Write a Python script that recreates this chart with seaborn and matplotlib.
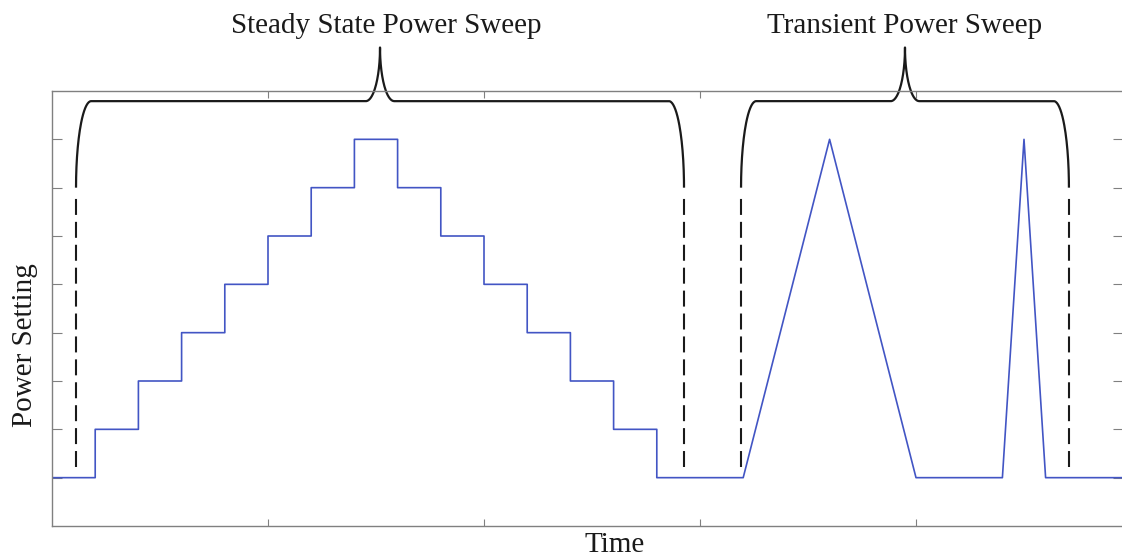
import numpy as np
import pandas as pd
import matplotlib
matplotlib.use("Agg")
import matplotlib.pyplot as plt
import seaborn as sns

# ---------------- data ----------------
# steady-state sweep: step start times and levels
step_times = [0, 1, 2, 3, 4, 5, 6, 7, 8, 9, 10, 11, 12, 13, 14]
step_levels = [0, 1, 2, 3, 4, 5, 6, 7, 6, 5, 4, 3, 2, 1, 0]
# transient sweep: linear ramps (vertices)
ramp_times = [16, 18, 20, 22, 22.5, 23, 24.8]
ramp_levels = [0, 7, 0, 0, 7, 0, 0]

# annotation labels and bracket extents (time units)
brace_labels = ["Steady State Power Sweep", "Transient Power Sweep"]
brace_left = [0.556, 15.95]
brace_right = [14.63, 23.54]

x_ticks = [5, 10, 15, 20]
y_ticks = [0, 1, 2, 3, 4, 5, 6, 7]
x_label = "Time"
y_label = "Power Setting"

# ---------------- build polyline ----------------
t_pts, p_pts = [], []
for i, (t, p) in enumerate(zip(step_times, step_levels)):
    t_end = step_times[i + 1] if i + 1 < len(step_times) else ramp_times[0]
    t_pts += [t, t_end]
    p_pts += [p, p]
t_pts += ramp_times
p_pts += ramp_levels
df = pd.DataFrame({"time": t_pts, "power": p_pts, "order": range(len(t_pts))})

# ---------------- style ----------------
sns.set_style("white")
plt.rcParams["font.family"] = ["Liberation Serif", "DejaVu Serif"]
plt.rcParams["lines.scale_dashes"] = False

fig = plt.figure(figsize=(11.22, 5.59), dpi=100)
W, H = 1122, 559
ax_l, ax_r, ax_t, ax_b = 52, 1123, 91, 526
ax = fig.add_axes([ax_l / W, (H - ax_b) / H, (ax_r - ax_l) / W, (ax_b - ax_t) / H])

sns.lineplot(data=df, x="time", y="power", sort=False, estimator=None,
             color="#4255c4", linewidth=1.2, ax=ax)

xmax = (ax_r - ax_l) / 43.2
ax.set_xlim(0, xmax)
ax.set_ylim(-1, 8)
ax.set_xticks(x_ticks)
ax.set_yticks(y_ticks)
ax.set_xlabel("")
ax.set_ylabel("")
for s in ax.spines.values():
    s.set_visible(True)
    s.set_color("#808080")
    s.set_linewidth(1.0)
ax.tick_params(axis="x", direction="in", length=5, width=0.8, color="#808080",
               top=True, bottom=True, labelbottom=False, labeltop=False)
ax.tick_params(axis="y", direction="in", length=7.5, width=0.8, color="#808080",
               left=True, right=True, labelleft=False, labelright=False)

# ---------------- braces ----------------
yb, yh, yp = 6.0, 7.79, 8.9
cw, pw = 0.35, 0.33
tt = np.linspace(0, np.pi / 2, 40)

def brace(L, R):
    M = (L + R) / 2
    xs, ys = [], []
    # left corner
    xs += list(L + cw * (1 - np.cos(tt)))
    ys += list(yb + (yh - yb) * np.sin(tt))
    # rise to peak
    xs += list(M - pw + pw * np.sin(tt))
    ys += list(yp - (yp - yh) * np.cos(tt))
    # fall from peak
    xs += list((M + pw - pw * np.sin(tt))[::-1])
    ys += list((yp - (yp - yh) * np.cos(tt))[::-1])
    # right corner
    xs += list((R - cw * (1 - np.cos(tt)))[::-1])
    ys += list((yb + (yh - yb) * np.sin(tt))[::-1])
    return np.array(xs), np.array(ys)

for L, R in zip(brace_left, brace_right):
    bx, by = brace(L, R)
    ax.plot(bx, by, color="#1a1a1a", lw=1.6, clip_on=False, solid_capstyle="butt")
    for xx in (L, R):
        ax.plot([xx, xx], [0.23, yb - 0.12], color="#1a1a1a", lw=1.5,
                dashes=(11.5, 5.0), clip_on=False, dash_capstyle="butt")

# ---------------- texts ----------------
fs = 21
fig.text(386.5 / W, 1 - 33 / H, brace_labels[0], ha="center", va="baseline",
         fontsize=fs, color="#1a1a1a")
fig.text(905 / W, 1 - 33 / H, brace_labels[1], ha="center", va="baseline",
         fontsize=fs, color="#1a1a1a")
fig.text(615 / W, 1 - 552 / H, x_label, ha="center", va="baseline",
         fontsize=fs, color="#1a1a1a")
fig.text(25 / W, 1 - 345 / H, y_label, ha="center", va="center", rotation=90,
         fontsize=fs, color="#1a1a1a")

fig.savefig("out.png", dpi=100, facecolor="white")
